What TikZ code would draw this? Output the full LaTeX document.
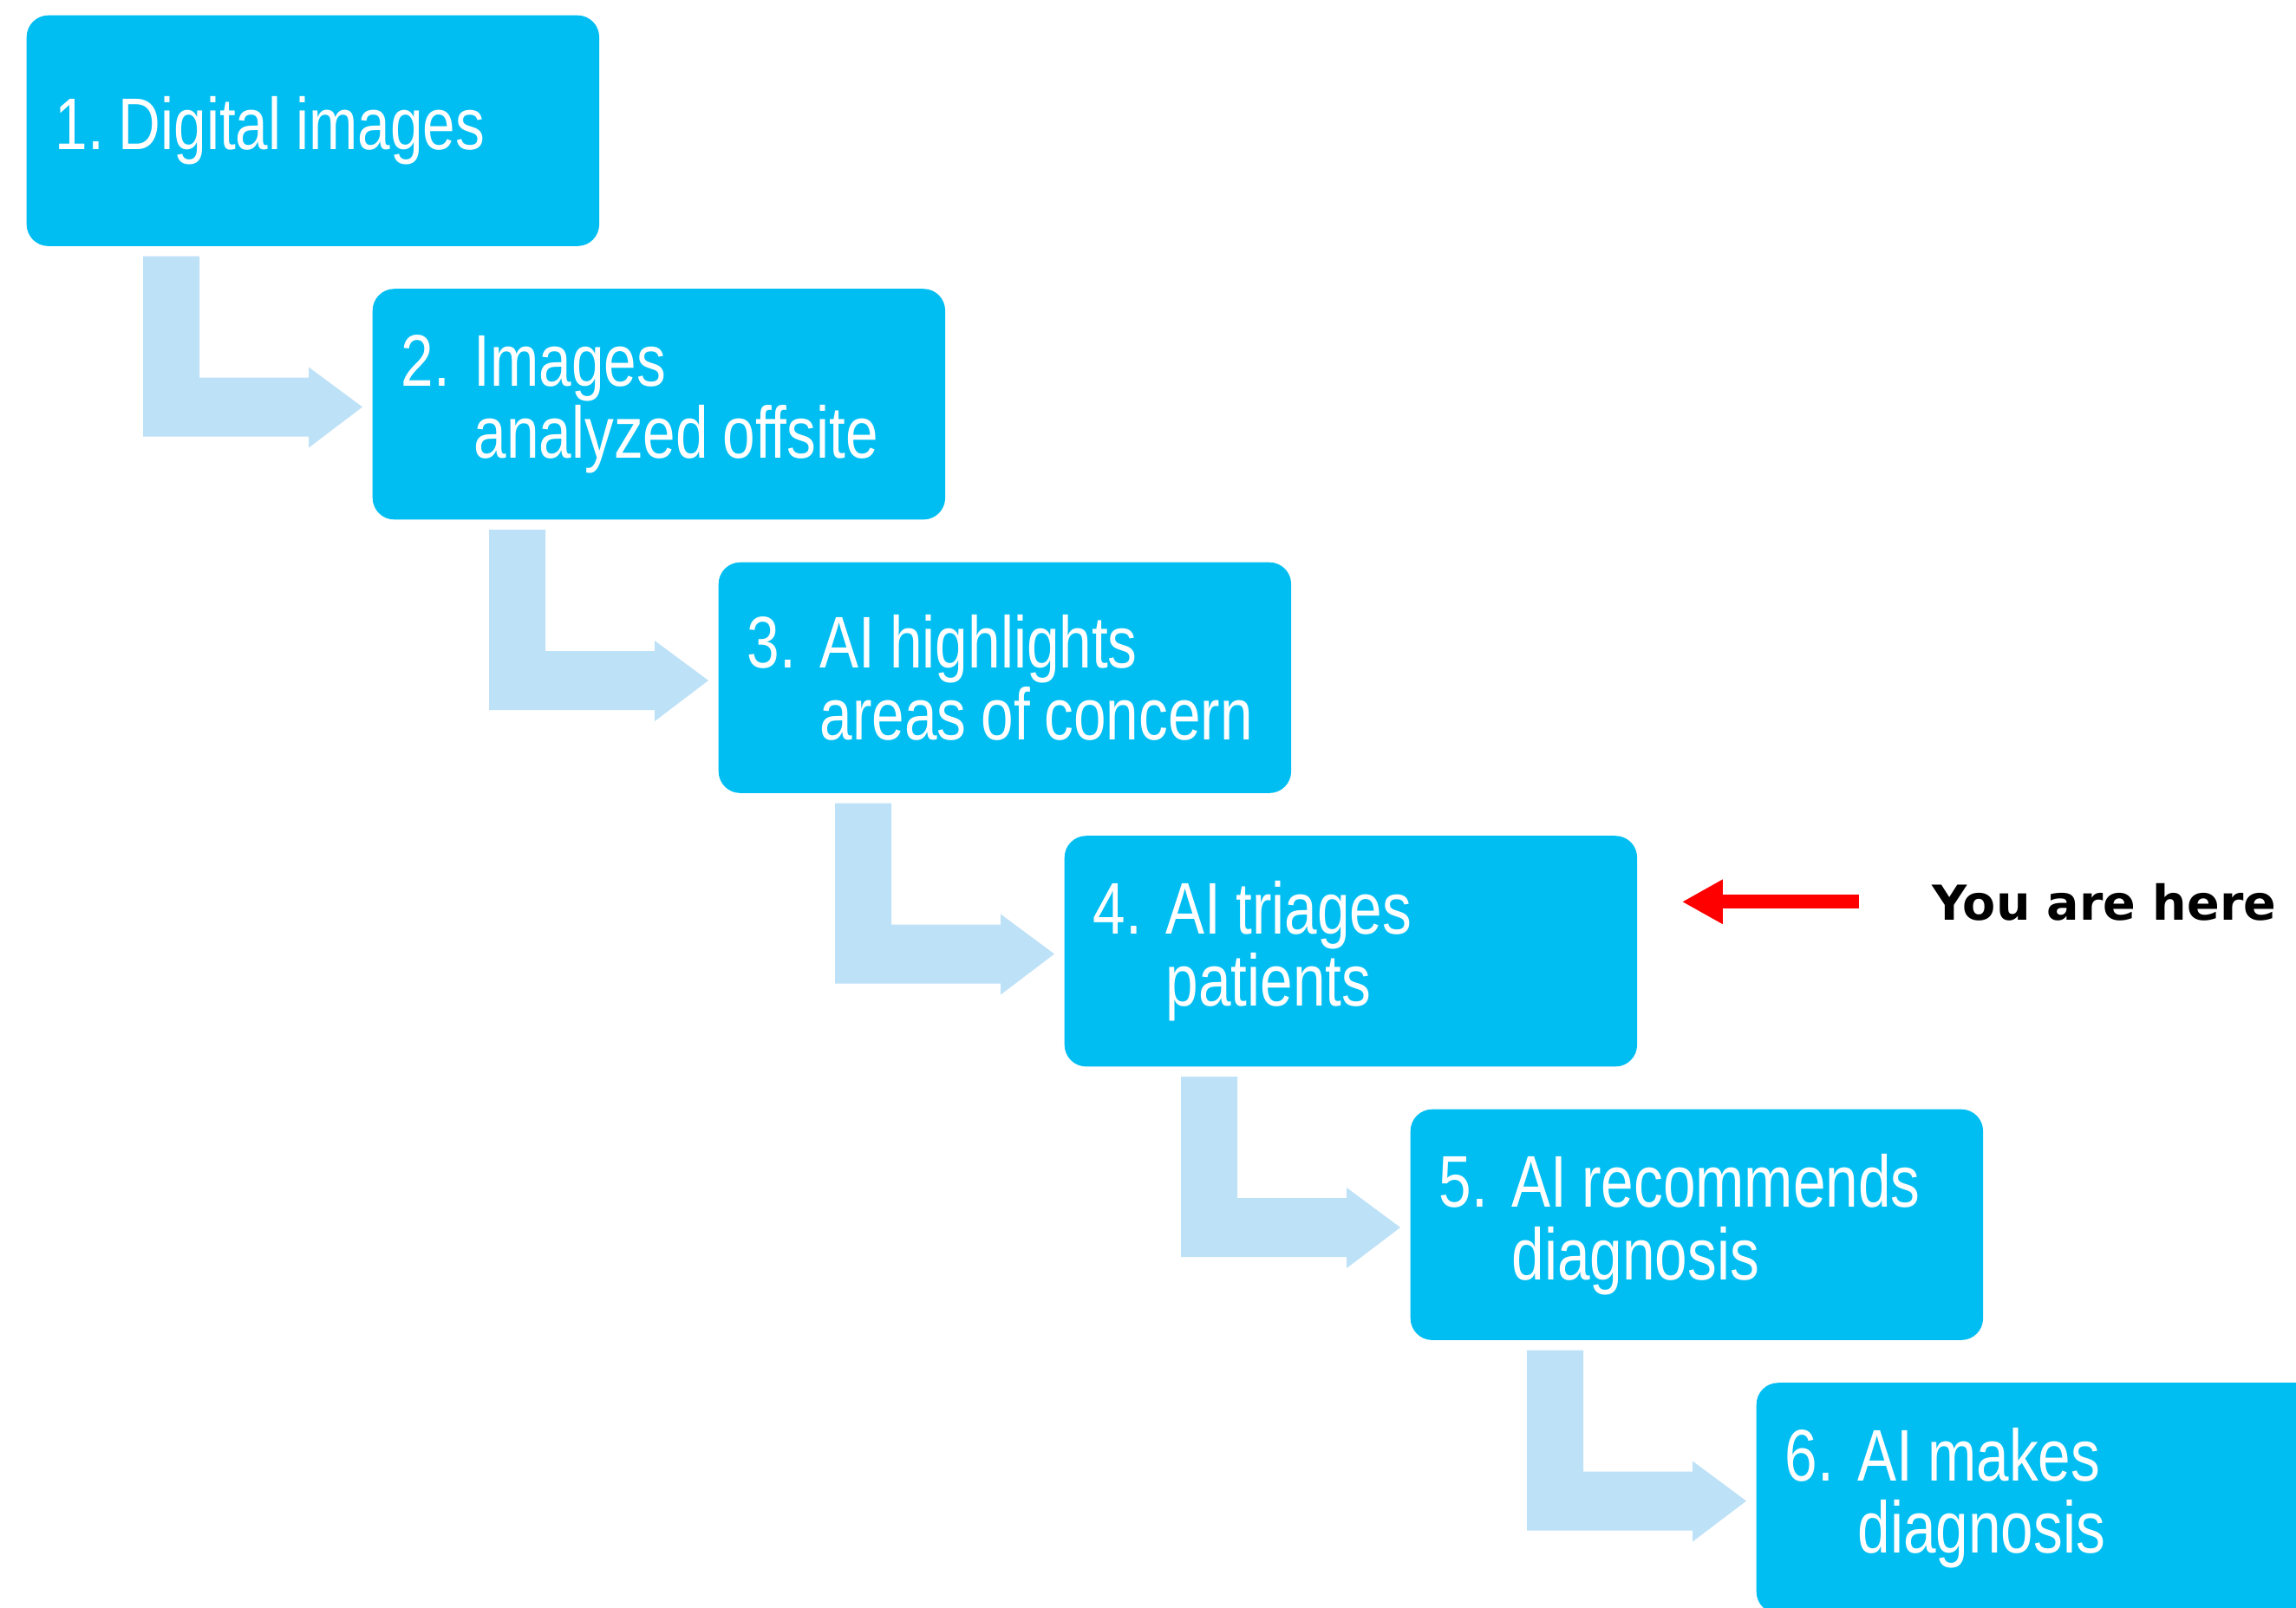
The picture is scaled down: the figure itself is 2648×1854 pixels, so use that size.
\documentclass[tikz,border=0pt]{standalone}
\usepackage{fontspec}
\usetikzlibrary{calc,arrows.meta}
\newfontfamily\stepfont[FakeStretch=0.8]{Liberation Sans}
\newfontfamily\notefont{DejaVu Sans}
\definecolor{boxblue}{HTML}{00BEF2}
\definecolor{arrowblue}{HTML}{BDE1F7}
\definecolor{markred}{HTML}{FF0000}
% tighter, uniform word spacing for the condensed step labels
\newcommand\tightwords{\frenchspacing\spaceskip=0.2em\relax}
% number in a fixed-width slot, second line hangs under the first line's text
\newcommand\stepentry[3]{\tightwords\makebox[0.84cm][l]{#1}\mbox{#2}\\\hspace*{0.84cm}\mbox{#3}}

\begin{document}
\begin{tikzpicture}[x=0.01cm,y=-0.01cm,
  stepbox/.style={fill=boxblue, draw=none, rounded corners=0.25cm,
    anchor=north west, minimum width=6.6cm, minimum height=2.66cm,
    inner xsep=0.33cm, inner ysep=0pt, text width=5.94cm, align=left,
    text=white, font=\stepfont\fontsize{24pt}{23.8pt}\selectfont},
  flowarrow/.style={fill=arrowblue, draw=none},
  pointer/.style={draw=markred, line width=0.16cm,
    -{Triangle[length=0.47cm,width=0.48cm]}},
  notelabel/.style={anchor=base west, inner sep=0pt,
    font=\notefont\bfseries\fontsize{15.8pt}{18pt}\selectfont}]

\useasboundingbox (0,0) rectangle (2648,1854);
\clip (0,0) rectangle (2648,1854);

% process steps
\node[stepbox] (b1) at (30,17)     {\tightwords\mbox{1. Digital images}};
\node[stepbox] (b2) at (429,332.5) {\stepentry{2.}{Images}{analyzed offsite}};
\node[stepbox] (b3) at (828,648)   {\stepentry{3.}{AI highlights}{areas of concern}};
\node[stepbox] (b4) at (1227,963.5){\stepentry{4.}{AI triages}{patients}};
\node[stepbox] (b5) at (1626,1279) {\stepentry{5.}{AI recommends}{diagnosis}};
\node[stepbox] (b6) at (2025,1594.5){\stepentry{6.}{AI makes}{diagnosis}};

% bent block arrows between consecutive steps
\foreach \a/\b in {b1/b2,b2/b3,b3/b4,b4/b5,b5/b6}{
  \path ($(\a.south west)+(135,11)$) coordinate (p)
        ($(\b.north west)+(-11,137)$) coordinate (q)
        ($(q)+(-62,34)$) coordinate (r);
  \fill[flowarrow] (p) -- ($(p)+(65,0)$) |- ($(q)+(-62,-34)$)
    -- ($(q)+(-62,-46)$) -- (q) -- ($(q)+(-62,47)$) -- (r)
    -- (p |- r) -- cycle;
}

% marker
\node[notelabel] (here) at (2228,1061) {You are here};
\draw[pointer] ($(here.west)+(-84,0)$) -- ($(b4.east |- here.west)+(51,0)$);

\end{tikzpicture}
\end{document}
